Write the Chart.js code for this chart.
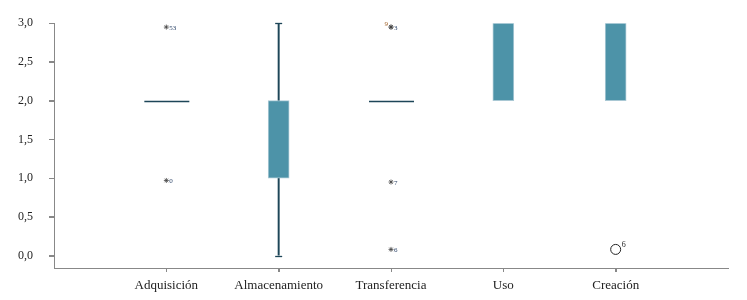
<!DOCTYPE html>
<html>
<head>
<meta charset="utf-8">
<script src="https://cdn.jsdelivr.net/npm/chart.js@4/dist/chart.umd.min.js"></script>
<style>
  html, body { margin: 0; padding: 0; background: #fff; }
  #wrap { width: 747px; height: 300px; }
</style>
</head>
<body>
<div id="wrap"><canvas id="chart"></canvas></div>
<script>
const categories = ['Adquisición', 'Almacenamiento', 'Transferencia', 'Uso', 'Creación'];
const q1 = [2, 1, 2, 2, 2];
const q3 = [2, 2, 2, 3, 3];
const whiskerLow = [2, 0, 2, 2, 2];
const whiskerHigh = [2, 3, 2, 3, 3];
const medians = [2, 2, 2, 3, 3];
const yTicks = [0, 0.5, 1, 1.5, 2, 2.5, 3];

// outliers: category index (1-based), value, case label, kind ('*' extreme, 'o' outlier)
const outlierCat = [1, 1, 3, 3, 3, 3, 5];
const outlierValue = [2.95, 0.97, 2.95, 2.95, 0.95, 0.08, 0.08];
const outlierLabel = ['53', '0', '3', '9', '7', '6', '6'];
const outlierKind = ['*', '*', '*', '*', '*', '*', 'o'];

const boxColor = '#4d93a8';
const darkLine = '#1d4658';
const axisColor = '#888';
const serif = '"Liberation Serif", "DejaVu Serif", serif';

const boxData = categories.map((c, i) => q3[i] > q1[i] ? { x: i + 1, y: [q1[i], q3[i]] } : null).filter(d => d);
const whiskerData = categories.map((c, i) =>
  (whiskerLow[i] < q1[i] || whiskerHigh[i] > q3[i]) ? { x: i + 1, y: [whiskerLow[i], whiskerHigh[i]] } : null).filter(d => d);

const starIdx = outlierKind.map((k, i) => k === '*' ? i : -1).filter(i => i >= 0);
const circIdx = outlierKind.map((k, i) => k === 'o' ? i : -1).filter(i => i >= 0);

// caps, collapsed medians, axis tick marks and case labels
const boxExtras = {
  id: 'boxExtras',
  afterDatasetsDraw(chart) {
    const { ctx, scales: { x, y } } = chart;
    ctx.save();
    ctx.strokeStyle = axisColor;
    ctx.lineWidth = 1;
    yTicks.forEach(v => {
      const py = Math.round(y.getPixelForValue(v)) + 0.5;
      ctx.beginPath(); ctx.moveTo(x.left - 5, py); ctx.lineTo(x.left, py); ctx.stroke();
    });
    categories.forEach((c, i) => {
      const px = Math.round(x.getPixelForValue(i + 1)) + 0.5;
      ctx.beginPath(); ctx.moveTo(px, y.bottom); ctx.lineTo(px, y.bottom + 4); ctx.stroke();
    });

    ctx.strokeStyle = darkLine;
    ctx.lineWidth = 1.3;
    categories.forEach((c, i) => {
      const px = x.getPixelForValue(i + 1);
      if (whiskerLow[i] < q1[i] || whiskerHigh[i] > q3[i]) {
        [whiskerLow[i], whiskerHigh[i]].forEach(v => {
          const py = Math.round(y.getPixelForValue(v)) + 0.5;
          ctx.beginPath(); ctx.moveTo(px - 3.5, py); ctx.lineTo(px + 3.5, py); ctx.stroke();
        });
      }
      if (q1[i] === q3[i]) {
        const py = Math.round(y.getPixelForValue(medians[i])) + 0.5;
        ctx.beginPath(); ctx.moveTo(px - 22, py); ctx.lineTo(px + 23, py); ctx.stroke();
      }
    });
    ctx.textBaseline = 'middle';
    outlierValue.forEach((v, i) => {
      const px = x.getPixelForValue(outlierCat[i]);
      const py = y.getPixelForValue(v);
      const dup = outlierValue.slice(0, i).some((w, j) => w === v && outlierCat[j] === outlierCat[i]);
      if (outlierKind[i] === 'o') {
        ctx.font = '8px ' + serif;
        ctx.fillStyle = '#222';
        ctx.textAlign = 'left';
        ctx.fillText(outlierLabel[i], px + 6, py - 5);
      } else if (dup) {
        ctx.font = '7px ' + serif;
        ctx.fillStyle = '#a0622a';
        ctx.textAlign = 'right';
        ctx.fillText(outlierLabel[i], px - 3, py - 3);
      } else {
        ctx.font = '7px ' + serif;
        ctx.fillStyle = '#2c4468';
        ctx.textAlign = 'left';
        ctx.fillText(outlierLabel[i], px + 3, py + 1);
      }
    });
    ctx.restore();
  }
};

new Chart(document.getElementById('chart'), {
  type: 'bar',
  data: {
    datasets: [
      {
        label: 'Bigotes',
        data: whiskerData,
        backgroundColor: darkLine,
        barThickness: 1.3,
        grouped: false,
        order: 3
      },
      {
        label: 'Caja',
        data: boxData,
        backgroundColor: boxColor,
        borderColor: '#a9c8d4',
        borderWidth: 1,
        borderSkipped: false,
        barThickness: 21,
        grouped: false,
        order: 2
      },
      {
        type: 'scatter',
        label: 'Extremos',
        data: starIdx.map(i => ({ x: outlierCat[i], y: outlierValue[i] })),
        pointStyle: 'star',
        radius: 2.5,
        borderColor: '#444',
        borderWidth: 0.8,
        order: 1
      },
      {
        type: 'scatter',
        label: 'Atípicos',
        data: circIdx.map(i => ({ x: outlierCat[i], y: outlierValue[i] })),
        pointStyle: 'circle',
        radius: 5,
        backgroundColor: '#fff',
        borderColor: '#222',
        borderWidth: 1,
        order: 1
      }
    ]
  },
  options: {
    responsive: true,
    maintainAspectRatio: false,
    animation: false,
    layout: { padding: { top: 20, right: 19, left: 0, bottom: 0 } },
    plugins: { legend: { display: false }, tooltip: { enabled: false } },
    scales: {
      x: {
        type: 'linear',
        min: 0,
        max: 6,
        offset: false,
        afterBuildTicks: s => { s.ticks = categories.map((c, i) => ({ value: i + 1 })); },
        afterFit: s => { s.height = 32; },
        ticks: {
          callback: v => categories[v - 1],
          font: { family: serif, size: 13 },
          color: '#222',
          padding: 6,
          maxRotation: 0,
          autoSkip: false
        },
        grid: { offset: false, drawOnChartArea: false, drawTicks: true, tickLength: 4, tickColor: axisColor, tickWidth: 1 },
        border: { display: true, color: axisColor, width: 1 }
      },
      y: {
        min: -0.16,
        max: 3.0,
        afterBuildTicks: s => { s.ticks = yTicks.map(v => ({ value: v })); },
        afterFit: s => { s.width = 54; },
        ticks: {
          callback: v => v.toFixed(1).replace('.', ','),
          font: { family: serif, size: 12 },
          color: '#222',
          padding: 16
        },
        grid: { drawOnChartArea: false, drawTicks: true, tickLength: 5, tickColor: axisColor, tickWidth: 1 },
        border: { display: true, color: axisColor, width: 1 }
      }
    }
  },
  plugins: [boxExtras]
});
</script>
</body>
</html>
